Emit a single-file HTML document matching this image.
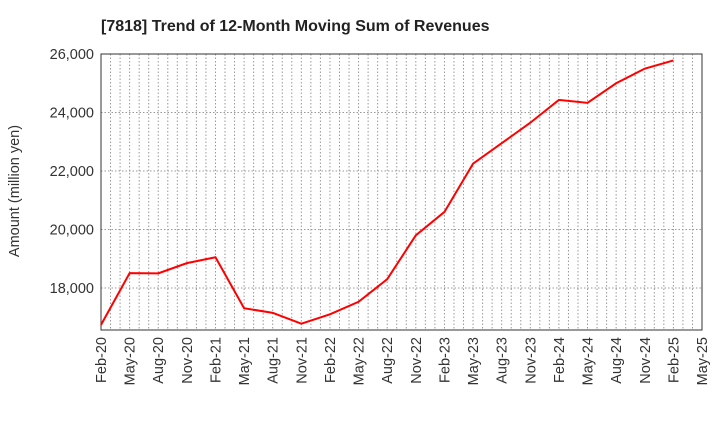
<!DOCTYPE html>
<html><head><meta charset="utf-8"><style>body{margin:0;background:#fff}svg{display:block;font-family:"Liberation Sans",sans-serif}</style></head>
<body>
<svg id="c" width="720" height="440">
<text x="101" y="31" font-size="16" font-weight="bold" fill="#222">[7818]  Trend of 12-Month Moving Sum of Revenues</text>
<text transform="translate(19,191) rotate(-90)" text-anchor="middle" font-size="14.5" fill="#333">Amount (million yen)</text>
<g id="grid"></g><g id="axes"></g><g id="series"></g>
</svg>
<script>
const categories=["Feb-20","May-20","Aug-20","Nov-20","Feb-21","May-21","Aug-21","Nov-21","Feb-22","May-22","Aug-22","Nov-22","Feb-23","May-23","Aug-23","Nov-23","Feb-24","May-24","Aug-24","Nov-24","Feb-25"];
const revenues=[16740,18510,18500,18850,19050,17310,17150,16780,17100,17530,18300,19800,20600,22250,22950,23650,24430,24330,25000,25500,25780];
const xTickLabels=["Feb-20","May-20","Aug-20","Nov-20","Feb-21","May-21","Aug-21","Nov-21","Feb-22","May-22","Aug-22","Nov-22","Feb-23","May-23","Aug-23","Nov-23","Feb-24","May-24","Aug-24","Nov-24","Feb-25","May-25"];
const yTicks=[18000,20000,22000,24000,26000];
const L=101,R=702,T=54,B=330,yMax=26000,yMin=16564;
const NS="http://www.w3.org/2000/svg";
const x=i=>L+(R-L)*i/21;
const y=v=>T+(yMax-v)/(yMax-yMin)*(B-T);
function mk(p,t,a){const e=document.createElementNS(NS,t);for(const k in a)e.setAttribute(k,a[k]);p.appendChild(e);return e;}
const g=document.getElementById('grid'),ax=document.getElementById('axes'),s=document.getElementById('series');
for(let m=1;m<63;m++){const xx=L+(R-L)*m/63;
const l=mk(g,'line',{x1:xx,x2:xx,y1:T,y2:B,stroke:'#999','stroke-dasharray':'1.5,2','stroke-width':1});

}
yTicks.forEach(v=>{const yy=y(v);
const l=mk(g,'line',{x1:L,x2:R,y1:yy,y2:yy,stroke:'#999','stroke-dasharray':'1.5,2','stroke-width':1});


const t=mk(ax,'text',{x:L-7,y:yy+5,'text-anchor':'end','font-size':14.5,fill:'#333'});t.textContent=v.toLocaleString('en-US');

});
xTickLabels.forEach((lab,i)=>{const xx=x(i);
const t=mk(ax,'text',{transform:`translate(${xx+5},${B+7}) rotate(-90)`,'text-anchor':'end','font-size':14.5,fill:'#333'});t.textContent=lab;

});
const f=mk(ax,'rect',{x:L,y:T,width:R-L,height:B-T,fill:'none',stroke:'#333','stroke-width':1});


const pl=mk(s,'polyline',{points:revenues.map((v,i)=>x(i)+','+y(v)).join(' '),fill:'none',stroke:'#f00','stroke-width':2});


</script>
</body></html>
